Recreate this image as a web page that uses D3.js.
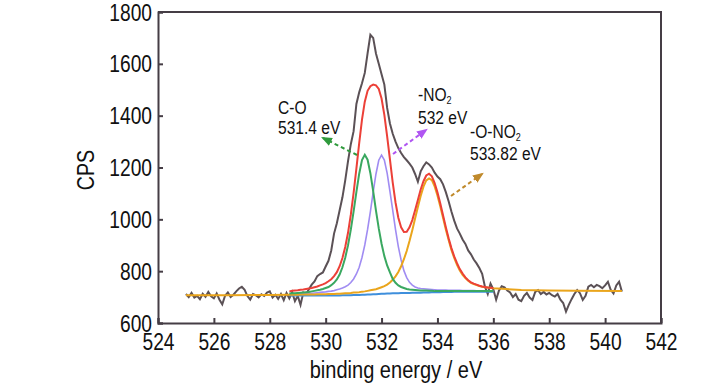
<!DOCTYPE html>
<html><head><meta charset="utf-8">
<script src="https://cdn.jsdelivr.net/npm/d3@7"></script>
<style>
html,body{margin:0;padding:0;background:#fff;}
svg{display:block;font-family:"Liberation Sans",Arial,sans-serif;}
</style></head><body>
<svg id="chart" width="728" height="390"></svg>
<script>
// ---------------- data ----------------
const xTicks = [524,526,528,530,532,534,536,538,540,542];
const yTicks = [600,800,1000,1200,1400,1600,1800];
const xLabel = "binding energy / eV";
const yLabel = "CPS";

// raw spectrum, 525.0 .. 540.6 eV, step 0.1 eV
const rawStart = 525.0, rawStep = 0.1;
const rawCPS = [
 712,700,716,698,705,692,713,701,720,703,
 695,714,690,672,705,718,700,709,722,733,
 740,728,704,690,712,707,699,711,704,717,
 722,698,709,693,712,688,716,695,719,684,
 705,670,718,712,730,748,760,781,789,795,
 818,840,880,945,985,1035,1085,1150,1225,1290,
 1340,1445,1490,1525,1565,1640,1712,1700,1640,1600,
 1560,1520,1430,1370,1330,1300,1275,1256,1240,1228,
 1215,1200,1175,1145,1185,1205,1220,1212,1200,1180,
 1165,1155,1135,1105,1070,1030,995,965,945,922,
 905,880,865,845,830,812,790,740,712,752,
 730,690,725,742,738,725,718,700,712,690,
 684,705,716,698,689,720,727,712,720,710,
 716,707,702,712,690,677,644,670,692,712,
 727,715,689,705,740,747,738,747,742,734,
 745,759,728,714,745,759,721
];

// fitted curves, 528.7 .. 536.0 eV, step 0.1 eV
const fitStart = 528.7, fitStep = 0.1;
const backgroundCPS = [
 706,706,706,706,706,706,706,706,706,706,
 706,706,706,706,706,706,706,706,706,707,
 707,707,707,708,708,708,709,709,710,710,
 711,711,712,713,713,714,714,715,715,715,
 716,716,716,716,717,717,717,717,718,718,
 718,719,719,719,719,720,720,720,720,721,
 721,721,721,721,721,721,721,721,721,721,
 721,721,721,721
];
const coCPS = [ // C-O 531.4 eV
 714,715,715,716,717,718,719,720,722,724,
 726,728,731,735,739,746,755,768,787,815,
 852,900,960,1031,1106,1176,1229,1249,1230,1178,
 1109,1034,965,906,858,822,795,770,755,745,
 739,735,731,729,728,727,726,725,725,725,
 724,724,723,723,723,723,723,723,723,723,
 723,723,723,723,723,723,723,723,723,723,
 723,723,723,723
];
const no2CPS = [ // -NO2 532 eV
 711,712,712,713,713,714,714,715,715,716,
 717,718,719,720,722,723,725,728,731,735,
 740,746,756,770,789,815,853,901,961,1030,
 1105,1175,1228,1248,1229,1178,1108,1035,960,895,
 843,802,775,757,746,739,735,733,732,731,
 730,729,728,727,727,727,727,726,726,726,
 726,726,725,725,725,725,725,724,724,724,
 724,724,724,724
];
const ono2CPS = [ // -O-NO2 533.82 eV
 709,709,709,709,710,710,710,710,710,710,
 711,711,711,711,712,712,712,713,713,714,
 715,715,716,718,718,719,721,722,724,726,
 728,730,734,738,742,748,756,767,780,797,
 819,846,878,916,958,1003,1048,1090,1126,1150,
 1158,1151,1127,1092,1050,1006,961,920,882,851,
 824,803,786,773,763,755,750,746,743,740,
 738,737,735,734
];
const envelopeCPS = [
 722,724,725,726,728,729,731,733,735,738,
 741,745,749,754,761,769,781,796,819,851,
 893,948,1018,1102,1197,1294,1385,1454,1496,1514,
 1520,1517,1503,1466,1403,1320,1231,1142,1065,1006,
 969,951,952,969,997,1035,1075,1115,1147,1169,
 1176,1166,1140,1104,1062,1016,970,927,889,857,
 831,808,791,776,765,757,752,748,744,741,
 739,737,736,735
];
// baseline extension of the -O-NO2 component outside the fit window
const ono2LeftE = [525.0, 526.5, 528.0], ono2LeftCPS = [707, 707, 708];
const ono2RightE = [537.0, 538.0, 539.0, 540.6], ono2RightCPS = [727, 725, 724, 723];

const peakNames = ["C-O", "-NO", "-O-NO"];
const peakSubs = ["", "2", "2"];
const peakEnergies = ["531.4 eV", "532 eV", "533.82 eV"];

// ---------------- drawing ----------------
const svg = d3.select("#chart");
const L = 158, R = 661, T = 12, B = 323;
const x = d3.scaleLinear().domain([524, 542]).range([L, R]);
const y = d3.scaleLinear().domain([600, 1800]).range([B, T]);
const axisColor = "#453d45";
const SX = 0.8; // horizontal squeeze to imitate the narrow typeface

const toPts = (start, st, arr) => arr.map((v, i) => [+(start + i * st).toFixed(2), v]);
const line = d3.line().x(d => x(d[0])).y(d => y(d[1]));

// raw data
svg.append("path").datum(toPts(rawStart, rawStep, rawCPS))
  .attr("d", line).attr("fill", "none").attr("stroke", "#5b5156").attr("stroke-width", 2);

const fitSeries = [
  {v: backgroundCPS, c: "#3f8fdc", w: 2},
  {v: no2CPS, c: "#a08cf2", w: 1.6},
  {v: ono2CPS, c: "#eaa51c", w: 2, ext: true},
  {v: coCPS, c: "#3aa860", w: 2},
  {v: envelopeCPS, c: "#ec4038", w: 2}
];
fitSeries.forEach(s => {
  let pts = toPts(fitStart, fitStep, s.v);
  if (s.ext) {
    pts = ono2LeftE.map((e, i) => [e, ono2LeftCPS[i]]).concat(pts)
      .concat(ono2RightE.map((e, i) => [e, ono2RightCPS[i]]));
  }
  svg.append("path").datum(pts).attr("d", line).attr("fill", "none")
    .attr("stroke", s.c).attr("stroke-width", s.w);
});

// axes
const gx = svg.append("g").attr("transform", `translate(0,${B})`)
  .call(d3.axisBottom(x).tickValues(xTicks).tickSize(-5).tickPadding(10).tickFormat(d3.format("d")));
const gy = svg.append("g").attr("transform", `translate(${L},0)`)
  .call(d3.axisLeft(y).tickValues(yTicks).tickSize(-5).tickPadding(6).tickFormat(d3.format("d")));
[gx, gy].forEach(g => {
  g.select(".domain").attr("stroke", axisColor).attr("stroke-width", 2);
  g.selectAll(".tick line").attr("stroke", axisColor).attr("stroke-width", 2);
  g.selectAll(".tick text").attr("fill", "#111").style("font-size", "24px")
    .style("font-family", '"Liberation Sans",Arial,sans-serif')
    .attr("transform", `scale(${SX},1)`);
});
gy.selectAll(".tick text").attr("x", -6 / SX).attr("dy", "0.34em");
// frame top/right
svg.append("path").attr("d", `M${L},${T}H${R}V${B}`).attr("fill", "none")
  .attr("stroke", axisColor).attr("stroke-width", 2);

// axis titles
svg.append("text").attr("transform", `translate(396,378) scale(0.835,1)`).attr("text-anchor", "middle")
  .style("font-size", "24px").attr("fill", "#111").text(xLabel);
svg.append("text").attr("transform", "translate(94,170) rotate(-90) scale(0.82,1)").attr("text-anchor", "middle")
  .style("font-size", "24px").attr("fill", "#111").text(yLabel);

// annotations
const labelPos = [[278, 114], [418, 101], [470, 138]];
const lineGap = [20, 23, 22];
peakNames.forEach((n, i) => {
  const t = svg.append("text")
    .attr("transform", `translate(${labelPos[i][0]},${labelPos[i][1]}) scale(0.82,1)`)
    .style("font-size", "19px").attr("fill", "#111");
  t.append("tspan").text(n);
  if (peakSubs[i]) t.append("tspan").attr("dy", 3).style("font-size", "11px").text(peakSubs[i]);
  svg.append("text")
    .attr("transform", `translate(${labelPos[i][0]},${labelPos[i][1] + lineGap[i]}) scale(0.82,1)`)
    .style("font-size", "19px").attr("fill", "#111").text(peakEnergies[i]);
});

// dashed arrows
const arrows = [
  {p: [357, 155, 323, 138], c: "#2f9a3c"},
  {p: [393, 154, 426, 130], c: "#b055f2"},
  {p: [451, 196, 482, 174], c: "#c08a2c"}
];
const defs = svg.append("defs");
arrows.forEach((a, i) => {
  defs.append("marker").attr("id", "ah" + i).attr("viewBox", "0 0 10 10")
    .attr("refX", 8).attr("refY", 5).attr("markerWidth", 5.5).attr("markerHeight", 5.5)
    .attr("markerUnits", "strokeWidth").attr("orient", "auto")
    .append("path").attr("d", "M0,1L10,5L0,9Z").attr("fill", a.c);
  svg.append("line").attr("x1", a.p[0]).attr("y1", a.p[1]).attr("x2", a.p[2]).attr("y2", a.p[3])
    .attr("stroke", a.c).attr("stroke-width", 2).attr("stroke-dasharray", "4,3")
    .attr("marker-end", `url(#ah${i})`);
});
</script>
</body></html>
